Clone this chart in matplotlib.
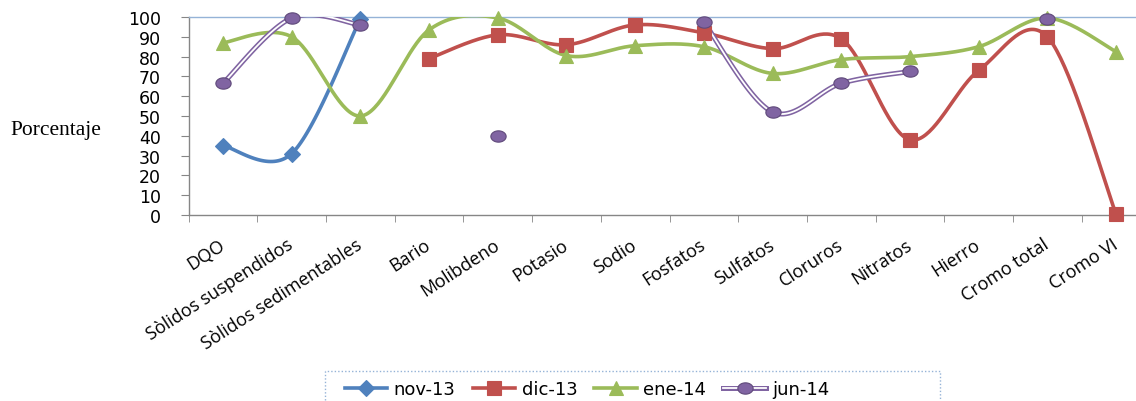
import numpy as np
import matplotlib
matplotlib.use("Agg")
import matplotlib.pyplot as plt
from matplotlib.path import Path
from matplotlib.lines import Line2D
from matplotlib.patches import Rectangle
from matplotlib.legend_handler import HandlerTuple

categories = ["DQO", "Sòlidos suspendidos", "Sòlidos sedimentables", "Bario", "Molibdeno",
              "Potasio", "Sodio", "Fosfatos", "Sulfatos", "Cloruros", "Nitratos", "Hierro",
              "Cromo total", "Cromo VI"]
nov13 = [35, 31, 99, None, None, None, None, None, None, None, None, None, None, None]
dic13 = [None, None, None, 79, 91, 86, 96, 92, 84, 89, 38, 73, 90, 0.5]
ene14 = [87, 90, 50, 93.5, 99.5, 80.5, 85.5, 85, 71.5, 78.5, 80, 85, 99.5, 82.5]
jun14 = [66.5, 99.5, 96, None, 40, None, None, 97.5, 52, 66.5, 72.5, None, 99, None]
series_names = ["nov-13", "dic-13", "ene-14", "jun-14"]
yticks = list(range(0, 101, 10))

BLUE = "#4F81BD"
RED = "#C0504D"
GREEN = "#9BBB59"
PURPLE = "#8064A2"
GRAY = "#868686"

t = np.linspace(0, 2 * np.pi, 60)
ellipse = Path(np.column_stack([1.35 * np.cos(t), np.sin(t)]), closed=True)


def smooth_runs(vals):
    runs, cur = [], []
    for i, v in enumerate(vals):
        if v is None:
            if cur:
                runs.append(cur)
            cur = []
        else:
            cur.append((i, v))
    if cur:
        runs.append(cur)
    out = []
    for run in runs:
        if len(run) < 2:
            continue
        p = np.array(run, dtype=float)
        xs, ys = [], []
        n = len(p)
        for k in range(n - 1):
            p0 = p[k - 1] if k > 0 else p[k]
            p1 = p[k]
            p2 = p[k + 1]
            p3 = p[k + 2] if k + 2 < n else p[k + 1]
            c1 = p1 + (p2 - p0) / 6.0
            c2 = p2 - (p3 - p1) / 6.0
            s = np.linspace(0, 1, 40)[:, None]
            b = ((1 - s) ** 3) * p1 + 3 * ((1 - s) ** 2) * s * c1 + 3 * (1 - s) * s ** 2 * c2 + s ** 3 * p2
            xs.extend(b[:, 0]); ys.extend(b[:, 1])
        out.append((np.array(xs), np.array(ys)))
    return out


fig = plt.figure(figsize=(11.36, 4.02), dpi=100)
ax = fig.add_axes([188.6 / 1136, 186 / 402, 961.8 / 1136, 198 / 402])
ax.set_xlim(-0.5, len(categories) - 0.5)
ax.set_ylim(0, 100)

specs = [
    (nov13, BLUE, "D", 8, BLUE),
    (dic13, RED, "s", 10, RED),
    (ene14, GREEN, "^", 10, GREEN),
    (jun14, PURPLE, ellipse, 11, "#5F497A"),
]
handles = []
for (vals, col, mk, ms, mec), name in zip(specs, series_names):
    idx = [i for i, v in enumerate(vals) if v is not None]
    yv = [vals[i] for i in idx]
    for xs, ys in smooth_runs(vals):
        if name == "jun-14":
            ax.plot(xs, ys, color=PURPLE, lw=3.6, solid_capstyle="round", zorder=3)
            ax.plot(xs, ys, color="white", lw=1.3, zorder=3.1)
        else:
            ax.plot(xs, ys, color=col, lw=2.6, zorder=3)
    ax.plot(idx, yv, ls="none", marker=mk, ms=ms, mfc=col, mec=mec, mew=0.8,
            zorder=4, clip_on=False)
    if name == "jun-14":
        h = (Line2D([], [], color=PURPLE, lw=3.6),
             Line2D([], [], color="white", lw=1.3),
             Line2D([], [], ls="none", marker=mk, ms=ms, mfc=col, mec=mec, mew=0.8))
    else:
        h = Line2D([], [], color=col, lw=2.6, marker=mk, ms=ms, mfc=col, mec=mec, mew=0.8)
    handles.append(h)

# axes styling
ax.spines["right"].set_visible(False)
ax.spines["top"].set_color("#95B3D7")
ax.spines["top"].set_linewidth(1.0)
ax.spines["left"].set_color(GRAY)
ax.spines["bottom"].set_color(GRAY)
ax.spines["left"].set_linewidth(1.0)
ax.spines["bottom"].set_linewidth(1.0)

ax.set_yticks(yticks)
ax.set_yticklabels([str(v) for v in yticks], fontsize=12.5, family="DejaVu Sans")
ax.tick_params(axis="y", direction="out", length=6, color=GRAY, pad=14)

ax.set_xticks(range(len(categories)))
ax.set_xticklabels(categories, rotation=33, ha="right", va="center",
                   rotation_mode="anchor", fontsize=13, family="Open Sans")
ax.tick_params(axis="x", which="major", length=0, pad=20)
ax.set_xticks(np.arange(-0.5, len(categories) - 0.4, 1.0), minor=True)
ax.tick_params(axis="x", which="minor", direction="out", length=5, color=GRAY)

fig.text(10 / 1136, 1 - 131 / 402, "Porcentaje", family="Liberation Serif", fontsize=15.5,
         va="center", ha="left")

# legend box (dotted frame)
fig.patches.append(Rectangle((325 / 1136, -0.05), 615 / 1136, 0.05 + 30 / 402,
                             transform=fig.transFigure, fill=False, ls=(0, (1, 1.5)),
                             ec="#95B3D7", lw=1.0))
leg = fig.legend(handles, series_names, loc="center left",
                 bbox_to_anchor=(345 / 1136, 12 / 402), ncol=4, frameon=False,
                 borderaxespad=0, borderpad=0,
                 handlelength=2.35, handletextpad=0.35, columnspacing=0.95,
                 prop={"family": "DejaVu Sans", "size": 13},
                 handler_map={tuple: HandlerTuple(ndivide=1, pad=0)})

fig.savefig("out.png", dpi=100)
